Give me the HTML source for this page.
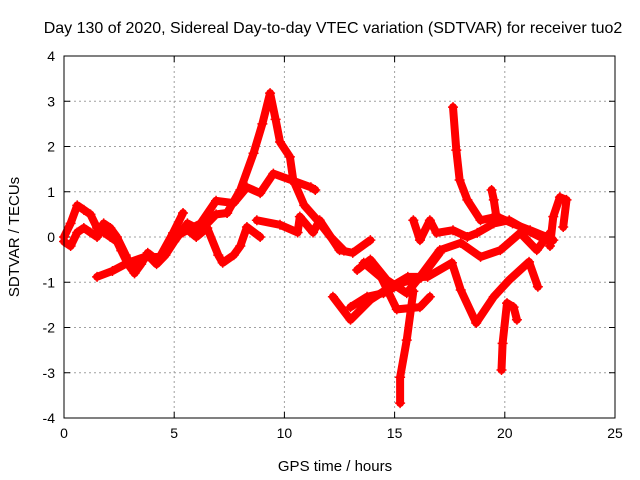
<!DOCTYPE html>
<html><head><meta charset="utf-8"><style>
html,body{margin:0;padding:0;background:#fff}
svg{display:block;font-family:"Liberation Sans",sans-serif}
</style></head><body>
<svg id="chart" width="640" height="480">
<text x="333" y="33" font-size="16" text-anchor="middle">Day 130 of 2020, Sidereal Day-to-day VTEC variation (SDTVAR) for receiver tuo2</text>
<text x="335" y="471" font-size="15" text-anchor="middle">GPS time / hours</text>
<text x="19" y="237" font-size="15" text-anchor="middle" transform="rotate(-90 19 237)">SDTVAR / TECUs</text>
<g id="grid"></g>
<g id="ticks"></g>
<g id="marks"></g>
<rect x="64" y="56" width="551" height="362" fill="none" stroke="#000" stroke-width="1"/>
</svg>
<script>
const xTicks=[0,5,10,15,20,25];
const yTicks=[-4,-3,-2,-1,0,1,2,3,4];
const trackA=[[0,0],[0.3,0.3],[0.6,0.7],[0.9,0.6],[1.2,0.5],[1.5,0.2],[1.8,0.1],[2.1,0],[2.4,-0.1],[2.6,-0.3],[2.9,-0.6],[3.2,-0.8],[3.5,-0.5],[3.8,-0.4],[4.2,-0.6],[4.6,-0.4],[5.0,-0.1],[5.3,0.1],[5.6,0.3],[6.0,0.2],[6.5,0.3],[6.9,0.5],[7.4,0.53]];
const trackB=[[0,-0.1],[0.3,-0.2],[0.6,0.1],[0.9,0.2],[1.2,0.1],[1.5,0],[1.8,0.3],[2.1,0.2],[2.4,0],[2.8,-0.4],[3.2,-0.8],[3.5,-0.6],[3.8,-0.35],[4.2,-0.5],[4.6,-0.3],[5.0,0],[5.5,0.2],[6.0,0],[6.5,0.2],[7.0,-0.4],[7.2,-0.57],[7.7,-0.4],[8.0,-0.2],[8.3,0.22],[8.9,0]];
const trackC=[[1.5,-0.88],[2.2,-0.75],[2.9,-0.57],[3.6,-0.45],[4.35,-0.44],[4.95,0.09],[5.4,0.53]];
const trackD=[[5.4,0.1],[6.2,0.3],[6.9,0.8],[7.7,0.75],[8.3,1.1],[8.9,0.97],[9.5,1.4],[10.3,1.26],[11.2,1.1],[11.4,1.04]];
const trackE=[[7.4,0.53],[8.0,1.04],[8.6,1.85],[9.0,2.5],[9.35,3.18],[9.6,2.6],[9.8,2.1],[10.25,1.77],[10.4,1.26],[10.9,0.7],[11.5,0.37],[12.1,0],[12.7,-0.3]];
const trackF=[[8.75,0.37],[9.8,0.27],[10.6,0.1],[10.7,0.45],[11.3,0.1],[11.6,0.37],[12.5,-0.29],[13.1,-0.35],[13.9,-0.07]];
const trackG=[[12.2,-1.32],[13.0,-1.83],[13.9,-1.39],[14.6,-1.17],[15.6,-0.88],[16.5,-0.88],[17.6,-0.57],[18.0,-1.17],[18.7,-1.9],[19.5,-1.32],[20.2,-0.95],[21.1,-0.55],[21.5,-1.1]];
const trackH=[[13.3,-0.73],[13.9,-0.5],[14.65,-0.95],[15.55,-1.24],[16.15,-0.88],[17.05,-0.29],[18.0,-0.13],[18.9,-0.44],[19.8,-0.29],[20.7,0.09],[21.45,-0.29],[22.05,0.09]];
const trackI=[[13.0,-1.55],[13.75,-1.32],[14.5,-1.24],[15.4,-1.0],[16.2,-0.9],[17.05,-0.35]];
const trackJ=[[13.6,-0.57],[14.4,-0.9],[15.1,-1.6],[16.15,-1.55],[16.6,-1.32]];
const trackK=[[15.85,-1.2],[15.55,-2.28],[15.25,-3.1],[15.25,-3.67]];
const trackL=[[15.85,0.37],[16.15,-0.07],[16.6,0.37],[16.9,0.09],[17.65,0.15],[18.3,0],[18.75,0.09],[19.5,0.3],[20.2,0.37],[21.0,0.15],[21.6,0],[22.2,-0.07]];
const trackM=[[17.65,2.87],[17.8,1.92],[17.95,1.26],[18.3,0.82],[18.9,0.37],[19.65,0.45],[20.35,0.3],[21.15,0.15],[21.9,0]];
const trackN=[[22.05,-0.2],[22.2,0.45],[22.5,0.88],[22.8,0.82],[22.65,0.22]];
const trackO=[[20.55,-1.83],[20.4,-1.55],[20.1,-1.46],[19.9,-2.35],[19.85,-2.94]];
const trackP=[[19.4,1.04],[19.5,0.82],[19.6,0.5]];
const tracks=[trackA,trackB,trackC,trackD,trackE,trackF,trackG,trackH,trackI,trackJ,trackK,trackL,trackM,trackN,trackO,trackP];

const NS='http://www.w3.org/2000/svg';
const X0=64,X1=615,Y0=418,Y1=56;
const xs=v=>X0+(v-0)/(25-0)*(X1-X0);
const ys=v=>Y0-(v+4)/8*(Y0-Y1);
function mk(t,a,p){const e=document.createElementNS(NS,t);for(const k in a)e.setAttribute(k,a[k]);p.appendChild(e);return e;}
const grid=document.getElementById('grid'),ticks=document.getElementById('ticks'),marks=document.getElementById('marks');
xTicks.forEach(t=>{
  const x=xs(t);
  if(t>0&&t<25){const g=mk('line',{x1:x,x2:x,y1:Y1,y2:Y0,stroke:'#a0a0a0','stroke-dasharray':'2,3'},grid);
  
  }
  mk('line',{x1:x,x2:x,y1:Y0,y2:Y0-6,stroke:'#000'},ticks);
  mk('line',{x1:x,x2:x,y1:Y1,y2:Y1+6,stroke:'#000'},ticks);
  const l=mk('text',{x:x,y:Y0+20,'font-size':14,'text-anchor':'middle'},ticks);l.textContent=t;
  
  
});
yTicks.forEach(t=>{
  const y=ys(t);
  if(t>-4&&t<4){const g=mk('line',{x1:X0,x2:X1,y1:y,y2:y,stroke:'#a0a0a0','stroke-dasharray':'2,3'},grid);
  
  }
  mk('line',{x1:X0,x2:X0+6,y1:y,y2:y,stroke:'#000'},ticks);
  mk('line',{x1:X1,x2:X1-6,y1:y,y2:y,stroke:'#000'},ticks);
  const l=mk('text',{x:X0-9,y:y+5,'font-size':14,'text-anchor':'end'},ticks);l.textContent=t;
  
  
});
tracks.forEach((tr,i)=>{
  const pl=mk('polyline',{points:tr.map(p=>xs(p[0])+','+ys(p[1])).join(' '),fill:'none',stroke:'#ff0000','stroke-width':8,'stroke-linejoin':'round','stroke-linecap':'round'},marks);
  
  
  tr.forEach(p=>{
    const x=xs(p[0]),y=ys(p[1]);
    const m=mk('path',{d:`M${x-5},${y}H${x+5}M${x},${y-5}V${y+5}`,stroke:'#ff0000','stroke-width':1.5},marks);
    
    
  });
});
</script>
</body></html>
